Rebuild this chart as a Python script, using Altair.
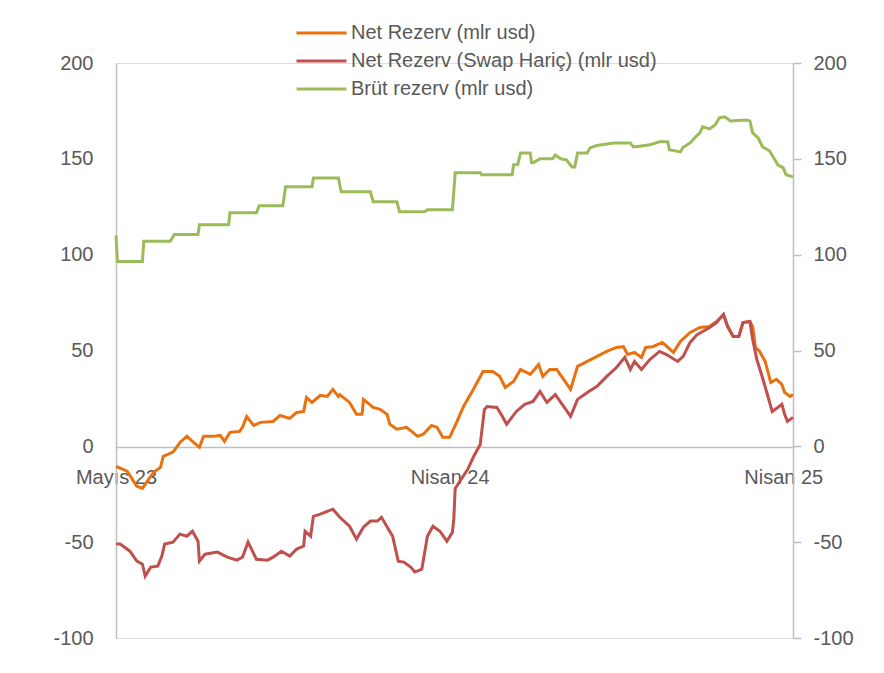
import altair as alt
import pandas as pd

# ---- data (business-day index from the first observation, value in bn USD) ----
series_names = ["Net Rezerv (mlr usd)", "Net Rezerv (Swap Hariç) (mlr usd)", "Brüt rezerv (mlr usd)"]
series_colors = ["#E9710F", "#C0504D", "#9BBB59"]

net_idx = [0, 8, 15, 19, 27, 32, 34, 41, 46, 51, 55, 60, 63, 70, 75, 78, 82, 89, 91, 94, 99, 104, 113, 118,
           125, 130, 135, 137, 141, 147, 152, 156, 160, 161, 168, 173, 177, 178, 185, 190, 195, 197, 202, 209,
           217, 221, 227, 231, 235, 240, 245, 250, 257, 264, 271, 276, 280, 286, 291, 298, 304, 307, 312, 317,
           322, 327, 332, 339, 346, 353, 360, 365, 368, 373, 378, 381, 386, 393, 397, 401, 406, 413, 420, 427,
           432, 437, 440, 444, 448, 451, 456, 458, 460, 463, 467, 471, 475, 479, 481, 485, 487]
net_val = [-10.4, -13, -20.8, -21.9, -13.5, -11, -5.2, -3, 2, 5.2, 2.6, -0.5, 5.2, 5.2, 5.7, 2.6, 7.3, 7.8, 9.9,
           15.6, 10.9, 12.5, 13, 16.1, 14.6, 17.7, 18.2, 25.5, 22.9, 26.6, 26, 29.7, 26, 27, 22.9, 16.7, 16.7,
           24.5, 20.3, 19.3, 16.7, 11.5, 8.9, 9.9, 5.2, 6.3, 10.9, 9.9, 4.7, 4.7, 12.5, 20.8, 29.7, 39, 39, 36.5,
           30.7, 33.9, 40.1, 37.5, 42.7, 36.5, 40.1, 40.1, 34.9, 29.7, 41.7, 44.3, 46.9, 49.5, 51.6, 52, 47.9, 49,
           46.4, 51.6, 52, 54.2, 51.6, 49, 54.7, 59.4, 62, 62.5, 65.1, 68.8, 62.5, 57.3, 57.3, 64.6, 65.1, 62.5,
           51.6, 49.5, 44.3, 33.3, 34.9, 32.3, 28.1, 26, 27]

swap_idx = [0, 3, 10, 15, 19, 21, 25, 30, 33, 35, 41, 46, 51, 55, 59, 60, 64, 73, 80, 87, 91, 95, 101, 109, 113,
            119, 125, 130, 135, 136, 140, 142, 147, 152, 156, 161, 168, 173, 178, 183, 188, 191, 196, 199, 203,
            207, 212, 215, 220, 224, 228, 233, 238, 242, 243, 244, 253, 257, 262, 265, 267, 274, 278, 281, 288,
            294, 300, 305, 310, 316, 322, 327, 332, 339, 346, 353, 360, 366, 370, 373, 378, 384, 391, 396, 404,
            408, 413, 418, 422, 427, 432, 437, 440, 444, 448, 451, 456, 458, 461, 465, 469, 472, 476, 479, 481,
            483, 487]
swap_val = [-51, -51, -54.7, -59.9, -61.5, -67.7, -63, -62.5, -57.3, -51, -50, -45.8, -46.9, -44.3, -49.5, -59.9,
            -56.3, -55.2, -57.8, -59.4, -57.8, -50, -58.9, -59.4, -57.8, -54.7, -57.3, -53.6, -52, -44.3, -46.9,
            -36.5, -35.4, -33.9, -32.8, -37, -41.7, -48.4, -42.2, -39, -39, -37, -43.2, -46.9, -59.9, -60.4, -63,
            -65.6, -64.1, -46.9, -41.7, -44.3, -49.5, -44.8, -38, -22, -12, -5.7, 1, 19.3, 20.8, 20.3, 15.6, 11.5,
            18.2, 21.9, 23.4, 28.6, 22.9, 27, 20.8, 15.6, 24.5, 28.1, 31.3, 36.5, 41.1, 46.4, 40.1, 44.3, 40.1,
            45.3, 49.5, 47.9, 44.3, 46.9, 54.2, 58.3, 59.9, 62, 64.6, 68.8, 62.5, 57.3, 57.3, 64.6, 65.1, 55.7,
            45.3, 35.9, 26, 18.2, 20.3, 21.9, 16.7, 13, 15.1]

gross_idx = [0, 1, 19, 20, 39, 42, 59, 60, 81, 82, 101, 103, 120, 122, 141, 142, 160, 162, 183, 185, 202, 204, 222,
             224, 242, 244, 262, 263, 285, 286, 289, 291, 298, 299, 300, 305, 314, 316, 320, 324, 328, 330, 332,
             339, 341, 346, 358, 370, 372, 374, 384, 391, 397, 398, 406, 408, 413, 417, 420, 422, 427, 431, 434,
             438, 442, 453, 456, 458, 462, 465, 470, 474, 476, 480, 482, 487]
gross_val = [110, 96.5, 96.5, 107, 107, 110.5, 110.5, 115.6, 115.6, 121.9, 121.9, 125.5, 125.5, 135.4, 135.4, 140,
             140, 132.8, 132.8, 127.6, 127.6, 122.4, 122.4, 123.4, 123.4, 142.7, 142.7, 141.7, 141.7, 146.9, 147,
             153, 153, 147.9, 147.9, 150, 150, 152, 150, 149.5, 145.8, 145.8, 153, 153, 155.7, 157, 158.3, 158.3,
             156.3, 156.3, 157.3, 158.9, 158.9, 154.7, 153.6, 156, 158.3, 161.5, 163.5, 166.7, 165.6, 167.7, 171.4,
             171.9, 169.8, 170.3, 169.8, 163.5, 160.9, 156.3, 154.2, 149.5, 146.9, 145.3, 141.7, 140.6]

x_tick_values = [0, 240, 480]
x_tick_labels = ["Mayıs 23", "Nisan 24", "Nisan 25"]
y_ticks = [-100, -50, 0, 50, 100, 150, 200]

# ---- build table ----
frames = []
for k, (name, idx, val) in enumerate(zip(series_names, [net_idx, swap_idx, gross_idx], [net_val, swap_val, gross_val])):
    frames.append(pd.DataFrame({"gun": idx, "deger": val, "seri": name, "sira": k}))
df = pd.concat(frames, ignore_index=True)

label_expr = " : ".join(
    f"datum.value == {v} ? '{l}'" for v, l in zip(x_tick_values[:-1], x_tick_labels[:-1])
) + f" : '{x_tick_labels[-1]}'"

FONT = "Liberation Sans"
TXT = "#595959"
AX = "#BFBFBF"

x_enc = alt.X(
    "gun:Q",
    scale=alt.Scale(domain=[0, 487], nice=False, zero=False),
    axis=alt.Axis(
        values=x_tick_values, labelExpr=label_expr, title=None, grid=False, ticks=False, tickSize=0,
        labelPadding=20, offset=-191, domainColor=AX, domainWidth=1.5, labelFlush=False,
        labelColor=TXT, labelFont=FONT, labelFontSize=20,
    ),
)

y_scale = alt.Scale(domain=[-100, 200], nice=False, zero=False)

lines = alt.Chart(df).mark_line(strokeWidth=3, interpolate="linear").encode(
    x=x_enc,
    y=alt.Y(
        "deger:Q", scale=y_scale,
        axis=alt.Axis(
            values=y_ticks, title=None, grid=False, ticks=False, tickSize=0, labelPadding=23,
            labelExpr="'' + datum.value",
            domainColor=AX, domainWidth=1.5, labelColor=TXT, labelFont=FONT, labelFontSize=20,
        ),
    ),
    color=alt.Color(
        "seri:N",
        scale=alt.Scale(domain=series_names, range=series_colors),
        sort=series_names,
        legend=alt.Legend(
            title=None, orient="none", legendX=179, legendY=-40, symbolType="stroke",
            symbolSize=2500, symbolStrokeWidth=3, clipHeight=20, rowPadding=8, labelOffset=3,
            labelFont=FONT, labelFontSize=20, labelColor=TXT, labelLimit=500, padding=0,
        ),
    ),
    order=alt.Order("sira:Q"),
)

right_axis = alt.Chart(df).mark_line(opacity=0).encode(
    x=x_enc,
    y=alt.Y(
        "deger:Q", scale=y_scale,
        axis=alt.Axis(
            orient="right", values=y_ticks, title=None, grid=False, ticks=True, tickSize=8,
            labelExpr="'' + datum.value",
            tickColor=AX, tickWidth=1.5, labelPadding=12, domainColor=AX, domainWidth=1.5,
            labelColor=TXT, labelFont=FONT, labelFontSize=20,
        ),
    ),
    detail="seri:N",
)

chart = alt.layer(lines, right_axis).resolve_scale(y="independent").properties(
    width=677,
    height=575,
    autosize=alt.AutoSizeParams(type="none"),
    padding={"left": 108, "top": 55, "right": 70, "bottom": 20},
).configure_view(stroke=None).configure(background="white")

chart.save("out.html", embed_options={"renderer": "svg", "actions": False})
